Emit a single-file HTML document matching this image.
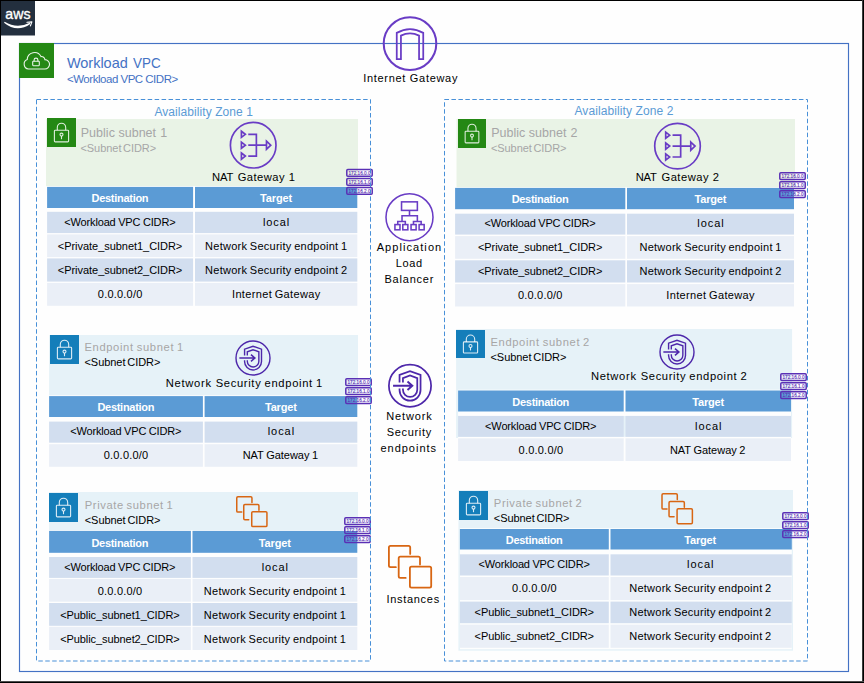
<!DOCTYPE html>
<html><head><meta charset="utf-8"><title>Workload VPC</title>
<style>
html,body{margin:0;padding:0}
body{width:864px;height:683px;position:relative;overflow:hidden;background:#fefefe;font-family:"Liberation Sans",sans-serif}
.b{position:absolute}
.t{position:absolute;white-space:pre;transform-origin:0 50%;font-family:"Liberation Sans",sans-serif}
svg{position:absolute;left:0;top:0;overflow:visible}
svg text{font-family:"Liberation Sans",sans-serif}
</style></head>
<body>
<svg width="864" height="683" viewBox="0 0 864 683">
<rect x="19.5" y="43.5" width="829" height="628" fill="none" stroke="#4472c4" stroke-width="1.15"/>
<rect x="1" y="1" width="34" height="34.5" fill="#232f3e"/>
<rect x="19" y="43" width="35" height="35" fill="#248814"/>
<rect x="46" y="119" width="312" height="67.1" fill="#e9f3e6"/>
<rect x="47" y="118" width="29" height="29" fill="#248814"/>
<rect x="47.1" y="186.9" width="146" height="21.1" fill="#5b9bd5"/>
<rect x="195" y="186.9" width="162.3" height="21.1" fill="#5b9bd5"/>
<rect x="47.1" y="211.8" width="146" height="21.3" fill="#d2deef"/>
<rect x="195" y="211.8" width="162.3" height="21.3" fill="#d2deef"/>
<rect x="47.1" y="234.4" width="146" height="22.7" fill="#eaeff7"/>
<rect x="195" y="234.4" width="162.3" height="22.7" fill="#eaeff7"/>
<rect x="47.1" y="258.4" width="146" height="23.2" fill="#d2deef"/>
<rect x="195" y="258.4" width="162.3" height="23.2" fill="#d2deef"/>
<rect x="47.1" y="282.9" width="146" height="22.9" fill="#eaeff7"/>
<rect x="195" y="282.9" width="162.3" height="22.9" fill="#eaeff7"/>
<rect x="49.1" y="335" width="308.9" height="60.3" fill="#e6f2f8"/>
<rect x="50" y="335" width="29" height="29" fill="#147eba"/>
<rect x="49.1" y="396.1" width="153.8" height="20.9" fill="#5b9bd5"/>
<rect x="204.6" y="396.1" width="152.7" height="20.9" fill="#5b9bd5"/>
<rect x="49.1" y="421.6" width="153.8" height="21.1" fill="#d2deef"/>
<rect x="204.6" y="421.6" width="152.7" height="21.1" fill="#d2deef"/>
<rect x="49.1" y="444.2" width="153.8" height="22.6" fill="#eaeff7"/>
<rect x="204.6" y="444.2" width="152.7" height="22.6" fill="#eaeff7"/>
<rect x="49.1" y="492" width="308.9" height="38.2" fill="#e6f2f8"/>
<rect x="49" y="493" width="29" height="29" fill="#147eba"/>
<rect x="49.1" y="530.9" width="141.8" height="21.9" fill="#5b9bd5"/>
<rect x="192.5" y="530.9" width="164.8" height="21.9" fill="#5b9bd5"/>
<rect x="49.1" y="557" width="141.8" height="20.9" fill="#d2deef"/>
<rect x="192.5" y="557" width="164.8" height="20.9" fill="#d2deef"/>
<rect x="49.1" y="578.9" width="141.8" height="22.8" fill="#eaeff7"/>
<rect x="192.5" y="578.9" width="164.8" height="22.8" fill="#eaeff7"/>
<rect x="49.1" y="603" width="141.8" height="22.8" fill="#d2deef"/>
<rect x="192.5" y="603" width="164.8" height="22.8" fill="#d2deef"/>
<rect x="49.1" y="626.8" width="141.8" height="23.2" fill="#eaeff7"/>
<rect x="192.5" y="626.8" width="164.8" height="23.2" fill="#eaeff7"/>
<rect x="456.5" y="119" width="338.5" height="68.2" fill="#e9f3e6"/>
<rect x="458" y="119" width="28" height="29" fill="#248814"/>
<rect x="455.1" y="187.9" width="170.2" height="21.3" fill="#5b9bd5"/>
<rect x="627" y="187.9" width="167" height="21.3" fill="#5b9bd5"/>
<rect x="455.1" y="213.7" width="170.2" height="20.9" fill="#d2deef"/>
<rect x="627" y="213.7" width="167" height="20.9" fill="#d2deef"/>
<rect x="455.1" y="236.1" width="170.2" height="22.7" fill="#eaeff7"/>
<rect x="627" y="236.1" width="167" height="22.7" fill="#eaeff7"/>
<rect x="455.1" y="260.3" width="170.2" height="22.2" fill="#d2deef"/>
<rect x="627" y="260.3" width="167" height="22.2" fill="#d2deef"/>
<rect x="455.1" y="284.1" width="170.2" height="22.4" fill="#eaeff7"/>
<rect x="627" y="284.1" width="167" height="22.4" fill="#eaeff7"/>
<rect x="456.1" y="329" width="336" height="109" fill="#e6f2f8"/>
<rect x="458.1" y="389.7" width="332.9" height="26.3" fill="#fefefe"/>
<rect x="458.1" y="436.8" width="332.9" height="1.6" fill="#fefefe"/>
<rect x="456" y="330" width="29" height="28" fill="#147eba"/>
<rect x="458.1" y="390.5" width="165.6" height="21" fill="#5b9bd5"/>
<rect x="625.5" y="390.5" width="165.5" height="21" fill="#5b9bd5"/>
<rect x="458.1" y="415.9" width="165.6" height="20.9" fill="#d2deef"/>
<rect x="625.5" y="415.9" width="165.5" height="20.9" fill="#d2deef"/>
<rect x="458.1" y="438.3" width="165.6" height="22.7" fill="#eaeff7"/>
<rect x="625.5" y="438.3" width="165.5" height="22.7" fill="#eaeff7"/>
<rect x="458.4" y="490" width="334.6" height="160.7" fill="#e6f2f8"/>
<rect x="459.9" y="528.2" width="331.9" height="121" fill="#fdfefe"/>
<rect x="459" y="491" width="29" height="29" fill="#147eba"/>
<rect x="459.9" y="529" width="148.9" height="20.5" fill="#5b9bd5"/>
<rect x="610.5" y="529" width="181.3" height="20.5" fill="#5b9bd5"/>
<rect x="459.9" y="554.3" width="148.9" height="21.2" fill="#d2deef"/>
<rect x="610.5" y="554.3" width="181.3" height="21.2" fill="#d2deef"/>
<rect x="459.9" y="577" width="148.9" height="23.1" fill="#eaeff7"/>
<rect x="610.5" y="577" width="181.3" height="23.1" fill="#eaeff7"/>
<rect x="459.9" y="601.6" width="148.9" height="21.6" fill="#d2deef"/>
<rect x="610.5" y="601.6" width="181.3" height="21.6" fill="#d2deef"/>
<rect x="459.9" y="624.7" width="148.9" height="23.1" fill="#eaeff7"/>
<rect x="610.5" y="624.7" width="181.3" height="23.1" fill="#eaeff7"/>
</svg>
<div class="t " style="left:66.95px;top:54.00px;font-size:14.5px;line-height:18px;letter-spacing:-0.026px;word-spacing:0.000px;color:#4472c4;">Workload</div>
<div class="t " style="left:133.05px;top:54.00px;font-size:14.5px;line-height:18px;letter-spacing:0.000px;word-spacing:0.000px;color:#4472c4;transform:scaleX(0.9257);">VPC</div>
<div class="t " style="left:66.95px;top:72.00px;font-size:11.5px;line-height:14px;letter-spacing:-0.466px;word-spacing:-0.128px;color:#4472c4;">&lt;Workload VPC CIDR&gt;</div>
<div class="t " style="left:154.45px;top:104.00px;font-size:12px;line-height:16px;letter-spacing:0.074px;word-spacing:0.000px;color:#5b9bd5;">Availability Zone 1</div>
<div class="t " style="left:574.45px;top:103.00px;font-size:12px;line-height:16px;letter-spacing:0.102px;word-spacing:0.000px;color:#5b9bd5;">Availability Zone 2</div>
<div class="t " style="left:80.75px;top:125.00px;font-size:12.5px;line-height:16px;letter-spacing:0.021px;word-spacing:0.000px;color:#a6a6a6;">Public subnet</div>
<div class="t " style="left:160.25px;top:125.00px;font-size:12.5px;line-height:16px;letter-spacing:0.748px;word-spacing:0.000px;color:#a6a6a6;">1</div>
<div class="t " style="left:80.45px;top:141.00px;font-size:11px;line-height:14px;letter-spacing:-0.041px;word-spacing:-1.415px;color:#a6a6a6;">&lt;Subnet CIDR&gt;</div>
<div class="t " style="left:211.95px;top:170.00px;font-size:11.2px;line-height:14px;letter-spacing:-0.135px;word-spacing:0.000px;color:#000;">NAT</div>
<div class="t " style="left:237.65px;top:170.00px;font-size:11.2px;line-height:14px;letter-spacing:0.470px;word-spacing:0.000px;color:#000;">Gateway 1</div>
<div class="t " style="left:91.55px;top:191.00px;font-size:11px;line-height:14px;letter-spacing:-0.290px;word-spacing:0.000px;color:#fff;font-weight:bold;">Destination</div>
<div class="t " style="left:260.10px;top:191.00px;font-size:11px;line-height:14px;letter-spacing:-0.160px;word-spacing:0.000px;color:#fff;font-weight:bold;">Target</div>
<div class="t " style="left:64.30px;top:215.00px;font-size:11px;line-height:14px;letter-spacing:-0.157px;word-spacing:-0.299px;color:#000;">&lt;Workload VPC CIDR&gt;</div>
<div class="t " style="left:262.90px;top:215.00px;font-size:11px;line-height:14px;letter-spacing:0.944px;word-spacing:0.000px;color:#000;">local</div>
<div class="t " style="left:57.80px;top:239.00px;font-size:11px;line-height:14px;letter-spacing:-0.041px;word-spacing:0.000px;color:#000;">&lt;Private_subnet1_CIDR&gt;</div>
<div class="t " style="left:205.10px;top:239.00px;font-size:11px;line-height:14px;letter-spacing:0.252px;word-spacing:-0.708px;color:#000;">Network Security endpoint 1</div>
<div class="t " style="left:57.80px;top:263.00px;font-size:11px;line-height:14px;letter-spacing:-0.041px;word-spacing:0.000px;color:#000;">&lt;Private_subnet2_CIDR&gt;</div>
<div class="t " style="left:205.10px;top:263.00px;font-size:11px;line-height:14px;letter-spacing:0.252px;word-spacing:-0.708px;color:#000;">Network Security endpoint 2</div>
<div class="t " style="left:97.80px;top:287.00px;font-size:11px;line-height:14px;letter-spacing:0.211px;word-spacing:0.000px;color:#000;">0.0.0.0/0</div>
<div class="t " style="left:232.00px;top:287.00px;font-size:11px;line-height:14px;letter-spacing:0.349px;word-spacing:-0.805px;color:#000;">Internet Gateway</div>
<div class="t " style="left:84.45px;top:340.00px;font-size:11.2px;line-height:14px;letter-spacing:0.638px;word-spacing:-0.749px;color:#a6a6a6;">Endpoint subnet 1</div>
<div class="t " style="left:84.45px;top:355.00px;font-size:11px;line-height:14px;letter-spacing:-0.036px;word-spacing:-1.220px;color:#000;">&lt;Subnet CIDR&gt;</div>
<div class="t " style="left:165.70px;top:376.00px;font-size:11.2px;line-height:14px;letter-spacing:0.737px;word-spacing:0.000px;color:#000;">Network</div>
<div class="t " style="left:215.70px;top:376.00px;font-size:11.2px;line-height:14px;letter-spacing:0.662px;word-spacing:-0.573px;color:#000;">Security endpoint 1</div>
<div class="t " style="left:97.45px;top:400.00px;font-size:11px;line-height:14px;letter-spacing:-0.290px;word-spacing:0.000px;color:#fff;font-weight:bold;">Destination</div>
<div class="t " style="left:264.90px;top:400.00px;font-size:11px;line-height:14px;letter-spacing:-0.160px;word-spacing:0.000px;color:#fff;font-weight:bold;">Target</div>
<div class="t " style="left:70.20px;top:424.00px;font-size:11px;line-height:14px;letter-spacing:-0.157px;word-spacing:-0.299px;color:#000;">&lt;Workload VPC CIDR&gt;</div>
<div class="t " style="left:267.70px;top:424.00px;font-size:11px;line-height:14px;letter-spacing:0.944px;word-spacing:0.000px;color:#000;">local</div>
<div class="t " style="left:103.70px;top:448.00px;font-size:11px;line-height:14px;letter-spacing:0.211px;word-spacing:0.000px;color:#000;">0.0.0.0/0</div>
<div class="t " style="left:242.65px;top:448.00px;font-size:11px;line-height:14px;letter-spacing:-0.023px;word-spacing:-0.433px;color:#000;">NAT Gateway 1</div>
<div class="t " style="left:84.75px;top:498.00px;font-size:11.2px;line-height:14px;letter-spacing:0.622px;word-spacing:-1.133px;color:#a6a6a6;">Private subnet 1</div>
<div class="t " style="left:84.75px;top:513.00px;font-size:11px;line-height:14px;letter-spacing:-0.064px;word-spacing:-1.192px;color:#000;">&lt;Subnet CIDR&gt;</div>
<div class="t " style="left:91.45px;top:536.00px;font-size:11px;line-height:14px;letter-spacing:-0.290px;word-spacing:0.000px;color:#fff;font-weight:bold;">Destination</div>
<div class="t " style="left:258.85px;top:536.00px;font-size:11px;line-height:14px;letter-spacing:-0.160px;word-spacing:0.000px;color:#fff;font-weight:bold;">Target</div>
<div class="t " style="left:64.20px;top:560.00px;font-size:11px;line-height:14px;letter-spacing:-0.157px;word-spacing:-0.299px;color:#000;">&lt;Workload VPC CIDR&gt;</div>
<div class="t " style="left:261.65px;top:560.00px;font-size:11px;line-height:14px;letter-spacing:0.944px;word-spacing:0.000px;color:#000;">local</div>
<div class="t " style="left:97.70px;top:584.00px;font-size:11px;line-height:14px;letter-spacing:0.211px;word-spacing:0.000px;color:#000;">0.0.0.0/0</div>
<div class="t " style="left:203.85px;top:584.00px;font-size:11px;line-height:14px;letter-spacing:0.252px;word-spacing:-0.708px;color:#000;">Network Security endpoint 1</div>
<div class="t " style="left:60.20px;top:608.00px;font-size:11px;line-height:14px;letter-spacing:-0.079px;word-spacing:0.000px;color:#000;">&lt;Public_subnet1_CIDR&gt;</div>
<div class="t " style="left:203.85px;top:608.00px;font-size:11px;line-height:14px;letter-spacing:0.252px;word-spacing:-0.708px;color:#000;">Network Security endpoint 1</div>
<div class="t " style="left:60.20px;top:632.00px;font-size:11px;line-height:14px;letter-spacing:-0.079px;word-spacing:0.000px;color:#000;">&lt;Public_subnet2_CIDR&gt;</div>
<div class="t " style="left:203.85px;top:632.00px;font-size:11px;line-height:14px;letter-spacing:0.252px;word-spacing:-0.708px;color:#000;">Network Security endpoint 1</div>
<div class="t " style="left:491.25px;top:125.00px;font-size:12.5px;line-height:16px;letter-spacing:0.012px;word-spacing:0.000px;color:#a6a6a6;">Public subnet</div>
<div class="t " style="left:570.45px;top:125.00px;font-size:12.5px;line-height:16px;letter-spacing:0.798px;word-spacing:0.000px;color:#a6a6a6;">2</div>
<div class="t " style="left:490.95px;top:141.00px;font-size:11px;line-height:14px;letter-spacing:-0.064px;word-spacing:-1.392px;color:#a6a6a6;">&lt;Subnet CIDR&gt;</div>
<div class="t " style="left:635.70px;top:170.00px;font-size:11.2px;line-height:14px;letter-spacing:-0.160px;word-spacing:0.000px;color:#000;">NAT</div>
<div class="t " style="left:661.45px;top:170.00px;font-size:11.2px;line-height:14px;letter-spacing:0.495px;word-spacing:0.000px;color:#000;">Gateway 2</div>
<div class="t " style="left:511.65px;top:192.00px;font-size:11px;line-height:14px;letter-spacing:-0.289px;word-spacing:0.000px;color:#fff;font-weight:bold;">Destination</div>
<div class="t " style="left:694.45px;top:192.00px;font-size:11px;line-height:14px;letter-spacing:-0.160px;word-spacing:0.000px;color:#fff;font-weight:bold;">Target</div>
<div class="t " style="left:484.40px;top:216.00px;font-size:11px;line-height:14px;letter-spacing:-0.157px;word-spacing:-0.299px;color:#000;">&lt;Workload VPC CIDR&gt;</div>
<div class="t " style="left:697.25px;top:216.00px;font-size:11px;line-height:14px;letter-spacing:0.944px;word-spacing:0.000px;color:#000;">local</div>
<div class="t " style="left:477.90px;top:240.00px;font-size:11px;line-height:14px;letter-spacing:-0.041px;word-spacing:0.000px;color:#000;">&lt;Private_subnet1_CIDR&gt;</div>
<div class="t " style="left:639.45px;top:240.00px;font-size:11px;line-height:14px;letter-spacing:0.252px;word-spacing:-0.708px;color:#000;">Network Security endpoint 1</div>
<div class="t " style="left:477.90px;top:264.00px;font-size:11px;line-height:14px;letter-spacing:-0.041px;word-spacing:0.000px;color:#000;">&lt;Private_subnet2_CIDR&gt;</div>
<div class="t " style="left:639.45px;top:264.00px;font-size:11px;line-height:14px;letter-spacing:0.252px;word-spacing:-0.708px;color:#000;">Network Security endpoint 2</div>
<div class="t " style="left:517.90px;top:288.00px;font-size:11px;line-height:14px;letter-spacing:0.211px;word-spacing:0.000px;color:#000;">0.0.0.0/0</div>
<div class="t " style="left:666.35px;top:288.00px;font-size:11px;line-height:14px;letter-spacing:0.349px;word-spacing:-0.805px;color:#000;">Internet Gateway</div>
<div class="t " style="left:490.45px;top:335.00px;font-size:11.2px;line-height:14px;letter-spacing:0.638px;word-spacing:-0.749px;color:#a6a6a6;">Endpoint subnet 2</div>
<div class="t " style="left:490.45px;top:350.00px;font-size:11px;line-height:14px;letter-spacing:-0.036px;word-spacing:-1.220px;color:#000;">&lt;Subnet CIDR&gt;</div>
<div class="t " style="left:590.95px;top:369.00px;font-size:11.2px;line-height:14px;letter-spacing:0.671px;word-spacing:0.000px;color:#000;">Network</div>
<div class="t " style="left:640.70px;top:369.00px;font-size:11.2px;line-height:14px;letter-spacing:0.630px;word-spacing:-0.542px;color:#000;">Security endpoint 2</div>
<div class="t " style="left:512.35px;top:395.00px;font-size:11px;line-height:14px;letter-spacing:-0.290px;word-spacing:0.000px;color:#fff;font-weight:bold;">Destination</div>
<div class="t " style="left:692.20px;top:395.00px;font-size:11px;line-height:14px;letter-spacing:-0.160px;word-spacing:0.000px;color:#fff;font-weight:bold;">Target</div>
<div class="t " style="left:485.10px;top:419.00px;font-size:11px;line-height:14px;letter-spacing:-0.157px;word-spacing:-0.299px;color:#000;">&lt;Workload VPC CIDR&gt;</div>
<div class="t " style="left:695.00px;top:419.00px;font-size:11px;line-height:14px;letter-spacing:0.944px;word-spacing:0.000px;color:#000;">local</div>
<div class="t " style="left:518.60px;top:443.00px;font-size:11px;line-height:14px;letter-spacing:0.211px;word-spacing:0.000px;color:#000;">0.0.0.0/0</div>
<div class="t " style="left:669.95px;top:443.00px;font-size:11px;line-height:14px;letter-spacing:-0.023px;word-spacing:-0.433px;color:#000;">NAT Gateway 2</div>
<div class="t " style="left:493.85px;top:496.00px;font-size:11.2px;line-height:14px;letter-spacing:0.614px;word-spacing:-1.126px;color:#a6a6a6;">Private subnet 2</div>
<div class="t " style="left:493.85px;top:511.00px;font-size:11px;line-height:14px;letter-spacing:-0.073px;word-spacing:-1.183px;color:#000;">&lt;Subnet CIDR&gt;</div>
<div class="t " style="left:505.80px;top:533.00px;font-size:11px;line-height:14px;letter-spacing:-0.289px;word-spacing:0.000px;color:#fff;font-weight:bold;">Destination</div>
<div class="t " style="left:684.20px;top:533.00px;font-size:11px;line-height:14px;letter-spacing:-0.160px;word-spacing:0.000px;color:#fff;font-weight:bold;">Target</div>
<div class="t " style="left:478.55px;top:557.00px;font-size:11px;line-height:14px;letter-spacing:-0.157px;word-spacing:-0.299px;color:#000;">&lt;Workload VPC CIDR&gt;</div>
<div class="t " style="left:687.00px;top:557.00px;font-size:11px;line-height:14px;letter-spacing:0.944px;word-spacing:0.000px;color:#000;">local</div>
<div class="t " style="left:512.05px;top:581.00px;font-size:11px;line-height:14px;letter-spacing:0.211px;word-spacing:0.000px;color:#000;">0.0.0.0/0</div>
<div class="t " style="left:629.20px;top:581.00px;font-size:11px;line-height:14px;letter-spacing:0.252px;word-spacing:-0.708px;color:#000;">Network Security endpoint 2</div>
<div class="t " style="left:474.55px;top:605.00px;font-size:11px;line-height:14px;letter-spacing:-0.079px;word-spacing:0.000px;color:#000;">&lt;Public_subnet1_CIDR&gt;</div>
<div class="t " style="left:629.20px;top:605.00px;font-size:11px;line-height:14px;letter-spacing:0.252px;word-spacing:-0.708px;color:#000;">Network Security endpoint 2</div>
<div class="t " style="left:474.55px;top:629.00px;font-size:11px;line-height:14px;letter-spacing:-0.079px;word-spacing:0.000px;color:#000;">&lt;Public_subnet2_CIDR&gt;</div>
<div class="t " style="left:629.20px;top:629.00px;font-size:11px;line-height:14px;letter-spacing:0.252px;word-spacing:-0.708px;color:#000;">Network Security endpoint 2</div>
<div class="t " style="left:363.20px;top:71.00px;font-size:11px;line-height:14px;letter-spacing:0.699px;word-spacing:0.000px;color:#000;">Internet Gateway</div>
<div class="t " style="left:376.70px;top:240.00px;font-size:11px;line-height:14px;letter-spacing:1.069px;word-spacing:0.000px;color:#000;">Application</div>
<div class="t " style="left:395.70px;top:256.00px;font-size:11px;line-height:14px;letter-spacing:0.676px;word-spacing:0.000px;color:#000;">Load</div>
<div class="t " style="left:384.45px;top:272.00px;font-size:11px;line-height:14px;letter-spacing:0.798px;word-spacing:0.000px;color:#000;">Balancer</div>
<div class="t " style="left:386.20px;top:409.00px;font-size:11px;line-height:14px;letter-spacing:0.859px;word-spacing:0.000px;color:#000;">Network</div>
<div class="t " style="left:386.70px;top:425.00px;font-size:11px;line-height:14px;letter-spacing:0.680px;word-spacing:0.000px;color:#000;">Security</div>
<div class="t " style="left:380.45px;top:441.00px;font-size:11px;line-height:14px;letter-spacing:0.987px;word-spacing:0.000px;color:#000;">endpoints</div>
<div class="t " style="left:386.45px;top:592.00px;font-size:11px;line-height:14px;letter-spacing:0.702px;word-spacing:0.000px;color:#000;">Instances</div>
<div class="b" style="left:0;top:0;width:864px;height:1px;background:#000"></div>
<div class="b" style="left:0;top:0;width:1px;height:683px;background:#000"></div>
<div class="b" style="left:862px;top:0;width:2px;height:683px;background:linear-gradient(90deg,#777,#000 50%)"></div>
<div class="b" style="left:0;top:681px;width:864px;height:2px;background:linear-gradient(180deg,#999,#000 50%)"></div>
<svg width="864" height="683" viewBox="0 0 864 683">
<g><text x="5.3" y="19.3" font-size="15" fill="#fff" stroke="#fff" stroke-width=".35" textLength="25.2" lengthAdjust="spacingAndGlyphs" style="font-family:'Liberation Sans',sans-serif">aws</text><path d="M4.0 22.7 Q17 33.2 30.3 23.9 L29.8 22.8 Q17 29.4 4.7 21.8 Z" fill="#fff"/><path d="M27 22.3 L31.9 21.9 L30.4 25.9" fill="none" stroke="#fff" stroke-width="1.15" stroke-linejoin="round" stroke-linecap="round"/></g>
<g fill="none" stroke="#fff" stroke-opacity=".9" stroke-width="1.1"><path d="M28.5 69 A4.9 4.9 0 0 1 27.2 59.6 A7.3 7.3 0 0 1 41 56.6 A3.4 3.4 0 0 1 44.9 59.6 A4.7 4.7 0 0 1 44.8 69 Z"/><rect x="32.7" y="61.3" width="6.6" height="4.4" rx=".6"/><path d="M34.1 61.3 V60 a1.9 1.9 0 0 1 3.8 0 V61.3"/></g>
<g transform="translate(47,118) scale(1.0,1.0)" fill="none" stroke="#fff" stroke-opacity=".85" stroke-width="1.1"><rect x="7.4" y="12.3" width="14.2" height="11.6" rx="0.8"/><path d="M10.3 12.3V9.6a4.2 4.4 0 0 1 8.4 0V12.3"/><circle cx="14.5" cy="16.6" r="1.5"/><path d="M14.5 18.1V21.2"/></g>
<g transform="translate(253.2,145.2) scale(0.991304347826087)" fill="none" stroke="#693cc5" stroke-width="1.7" stroke-linejoin="miter"><circle r="23"/><path d="M-11.9 -14.1 L-7.9 -11 L-11.9 -7.9 Z"/><path d="M-11.9 -3.1 L-7.9 0 L-11.9 3.1 Z"/><path d="M-11.9 7.9 L-7.9 11 L-11.9 14.1 Z"/><path d="M-5 -11 H3.2 V11 H-5 M-5 0 H13"/><path d="M13.4 -4.1 L17.7 0 L13.4 4.1 Z"/></g>
<g transform="translate(346,168.9)"><rect x="0.8" y="0.7" width="25.4" height="6.7" rx="1" fill="none" stroke="#5a30b5" stroke-width="1.5"/><text x="13.5" y="6.3" font-size="6" text-anchor="middle" fill="#5a30b5" stroke="#5a30b5" stroke-width=".15" textLength="22" lengthAdjust="spacingAndGlyphs">172.16.0.0</text><rect x="0.8" y="9.7" width="25.4" height="6.7" rx="1" fill="none" stroke="#5a30b5" stroke-width="1.5"/><text x="13.5" y="15.3" font-size="6" text-anchor="middle" fill="#5a30b5" stroke="#5a30b5" stroke-width=".15" textLength="22" lengthAdjust="spacingAndGlyphs">172.16.1.0</text><rect x="0.8" y="18.7" width="25.4" height="6.7" rx="1" fill="none" stroke="#5a30b5" stroke-width="1.5"/><text x="13.5" y="24.3" font-size="6" text-anchor="middle" fill="#5a30b5" stroke="#5a30b5" stroke-width=".15" textLength="22" lengthAdjust="spacingAndGlyphs">172.16.2.0</text></g>
<g transform="translate(50,335) scale(1.0,1.0)" fill="none" stroke="#fff" stroke-opacity=".85" stroke-width="1.1"><rect x="7.4" y="12.3" width="14.2" height="11.6" rx="0.8"/><path d="M10.3 12.3V9.6a4.2 4.4 0 0 1 8.4 0V12.3"/><circle cx="14.5" cy="16.6" r="1.5"/><path d="M14.5 18.1V21.2"/></g>
<g transform="translate(253,358) scale(0.7798165137614679)" fill="none" stroke="#4d27aa" stroke-width="1.8"><circle r="21.8"/><path d="M-10.8 -3.3 V-11.3 L0 -15.1 L10.9 -11.3 V4.4 A10.85 10.9 0 0 1 -10.8 4.4 V2.8"/><path d="M-7.3 -3.3 V-7.9 L0 -10.6 L7.5 -7.9 V4.1 A7.4 7.4 0 0 1 -7.3 4.1 V2.8"/><path d="M-17.5 0 H2.4 M-2.6 -4.4 L2.4 0 L-2.6 4.4" stroke-width="2"/></g>
<g transform="translate(345,378)"><rect x="0.8" y="0.7" width="25.4" height="6.7" rx="1" fill="none" stroke="#5a30b5" stroke-width="1.5"/><text x="13.5" y="6.3" font-size="6" text-anchor="middle" fill="#5a30b5" stroke="#5a30b5" stroke-width=".15" textLength="22" lengthAdjust="spacingAndGlyphs">172.16.0.0</text><rect x="0.8" y="9.7" width="25.4" height="6.7" rx="1" fill="none" stroke="#5a30b5" stroke-width="1.5"/><text x="13.5" y="15.3" font-size="6" text-anchor="middle" fill="#5a30b5" stroke="#5a30b5" stroke-width=".15" textLength="22" lengthAdjust="spacingAndGlyphs">172.16.1.0</text><rect x="0.8" y="18.7" width="25.4" height="6.7" rx="1" fill="none" stroke="#5a30b5" stroke-width="1.5"/><text x="13.5" y="24.3" font-size="6" text-anchor="middle" fill="#5a30b5" stroke="#5a30b5" stroke-width=".15" textLength="22" lengthAdjust="spacingAndGlyphs">172.16.2.0</text></g>
<g transform="translate(49,493) scale(1.0,1.0)" fill="none" stroke="#fff" stroke-opacity=".85" stroke-width="1.1"><rect x="7.4" y="12.3" width="14.2" height="11.6" rx="0.8"/><path d="M10.3 12.3V9.6a4.2 4.4 0 0 1 8.4 0V12.3"/><circle cx="14.5" cy="16.6" r="1.5"/><path d="M14.5 18.1V21.2"/></g>
<g fill="none" stroke="#d86613" stroke-width="1.5" stroke-linecap="round"><path d="M251.95 502.56 V497.99 Q251.95 496.85 250.81 496.85 H237.89 Q236.75 496.85 236.75 497.99 V510.91 Q236.75 512.05 237.89 512.05 H241.75 M258.94 510.19 V505.63 Q258.94 504.49 257.80 504.49 H244.89 Q243.74 504.49 243.74 505.63 V518.54 Q243.74 519.69 244.89 519.69 H248.74"/><rect x="251.74" y="511.69" width="15.20" height="14.91" rx="1.14"/></g>
<g transform="translate(344,517.1)"><rect x="0.8" y="0.7" width="25.4" height="6.7" rx="1" fill="none" stroke="#5a30b5" stroke-width="1.5"/><text x="13.5" y="6.3" font-size="6" text-anchor="middle" fill="#5a30b5" stroke="#5a30b5" stroke-width=".15" textLength="22" lengthAdjust="spacingAndGlyphs">172.16.0.0</text><rect x="0.8" y="9.7" width="25.4" height="6.7" rx="1" fill="none" stroke="#5a30b5" stroke-width="1.5"/><text x="13.5" y="15.3" font-size="6" text-anchor="middle" fill="#5a30b5" stroke="#5a30b5" stroke-width=".15" textLength="22" lengthAdjust="spacingAndGlyphs">172.16.1.0</text><rect x="0.8" y="18.7" width="25.4" height="6.7" rx="1" fill="none" stroke="#5a30b5" stroke-width="1.5"/><text x="13.5" y="24.3" font-size="6" text-anchor="middle" fill="#5a30b5" stroke="#5a30b5" stroke-width=".15" textLength="22" lengthAdjust="spacingAndGlyphs">172.16.2.0</text></g>
<g transform="translate(458,119) scale(0.9655172413793104,1.0)" fill="none" stroke="#fff" stroke-opacity=".85" stroke-width="1.1"><rect x="7.4" y="12.3" width="14.2" height="11.6" rx="0.8"/><path d="M10.3 12.3V9.6a4.2 4.4 0 0 1 8.4 0V12.3"/><circle cx="14.5" cy="16.6" r="1.5"/><path d="M14.5 18.1V21.2"/></g>
<g transform="translate(677.5,146.1) scale(0.991304347826087)" fill="none" stroke="#693cc5" stroke-width="1.7" stroke-linejoin="miter"><circle r="23"/><path d="M-11.9 -14.1 L-7.9 -11 L-11.9 -7.9 Z"/><path d="M-11.9 -3.1 L-7.9 0 L-11.9 3.1 Z"/><path d="M-11.9 7.9 L-7.9 11 L-11.9 14.1 Z"/><path d="M-5 -11 H3.2 V11 H-5 M-5 0 H13"/><path d="M13.4 -4.1 L17.7 0 L13.4 4.1 Z"/></g>
<g transform="translate(779,172.1)"><rect x="0.8" y="0.7" width="25.4" height="6.7" rx="1" fill="none" stroke="#5a30b5" stroke-width="1.5"/><text x="13.5" y="6.3" font-size="6" text-anchor="middle" fill="#5a30b5" stroke="#5a30b5" stroke-width=".15" textLength="22" lengthAdjust="spacingAndGlyphs">172.16.0.0</text><rect x="0.8" y="9.7" width="25.4" height="6.7" rx="1" fill="none" stroke="#5a30b5" stroke-width="1.5"/><text x="13.5" y="15.3" font-size="6" text-anchor="middle" fill="#5a30b5" stroke="#5a30b5" stroke-width=".15" textLength="22" lengthAdjust="spacingAndGlyphs">172.16.1.0</text><rect x="0.8" y="18.7" width="25.4" height="6.7" rx="1" fill="none" stroke="#5a30b5" stroke-width="1.5"/><text x="13.5" y="24.3" font-size="6" text-anchor="middle" fill="#5a30b5" stroke="#5a30b5" stroke-width=".15" textLength="22" lengthAdjust="spacingAndGlyphs">172.16.2.0</text></g>
<g transform="translate(456,330) scale(1.0,0.9655172413793104)" fill="none" stroke="#fff" stroke-opacity=".85" stroke-width="1.1"><rect x="7.4" y="12.3" width="14.2" height="11.6" rx="0.8"/><path d="M10.3 12.3V9.6a4.2 4.4 0 0 1 8.4 0V12.3"/><circle cx="14.5" cy="16.6" r="1.5"/><path d="M14.5 18.1V21.2"/></g>
<g transform="translate(677,352) scale(0.7798165137614679)" fill="none" stroke="#4d27aa" stroke-width="1.8"><circle r="21.8"/><path d="M-10.8 -3.3 V-11.3 L0 -15.1 L10.9 -11.3 V4.4 A10.85 10.9 0 0 1 -10.8 4.4 V2.8"/><path d="M-7.3 -3.3 V-7.9 L0 -10.6 L7.5 -7.9 V4.1 A7.4 7.4 0 0 1 -7.3 4.1 V2.8"/><path d="M-17.5 0 H2.4 M-2.6 -4.4 L2.4 0 L-2.6 4.4" stroke-width="2"/></g>
<g transform="translate(780,373)"><rect x="0.8" y="0.7" width="25.4" height="6.7" rx="1" fill="none" stroke="#5a30b5" stroke-width="1.5"/><text x="13.5" y="6.3" font-size="6" text-anchor="middle" fill="#5a30b5" stroke="#5a30b5" stroke-width=".15" textLength="22" lengthAdjust="spacingAndGlyphs">172.16.0.0</text><rect x="0.8" y="9.7" width="25.4" height="6.7" rx="1" fill="none" stroke="#5a30b5" stroke-width="1.5"/><text x="13.5" y="15.3" font-size="6" text-anchor="middle" fill="#5a30b5" stroke="#5a30b5" stroke-width=".15" textLength="22" lengthAdjust="spacingAndGlyphs">172.16.1.0</text><rect x="0.8" y="18.7" width="25.4" height="6.7" rx="1" fill="none" stroke="#5a30b5" stroke-width="1.5"/><text x="13.5" y="24.3" font-size="6" text-anchor="middle" fill="#5a30b5" stroke="#5a30b5" stroke-width=".15" textLength="22" lengthAdjust="spacingAndGlyphs">172.16.2.0</text></g>
<g transform="translate(459,491) scale(1.0,1.0)" fill="none" stroke="#fff" stroke-opacity=".85" stroke-width="1.1"><rect x="7.4" y="12.3" width="14.2" height="11.6" rx="0.8"/><path d="M10.3 12.3V9.6a4.2 4.4 0 0 1 8.4 0V12.3"/><circle cx="14.5" cy="16.6" r="1.5"/><path d="M14.5 18.1V21.2"/></g>
<g fill="none" stroke="#d86613" stroke-width="1.5" stroke-linecap="round"><path d="M677.30 499.55 V494.95 Q677.30 493.80 676.15 493.80 H663.15 Q662.00 493.80 662.00 494.95 V507.95 Q662.00 509.10 663.15 509.10 H667.03 M684.34 507.23 V502.64 Q684.34 501.49 683.19 501.49 H670.19 Q669.04 501.49 669.04 502.64 V515.64 Q669.04 516.79 670.19 516.79 H674.07"/><rect x="677.08" y="508.74" width="15.30" height="15.01" rx="1.15"/></g>
<g transform="translate(782,512.1)"><rect x="0.8" y="0.7" width="25.4" height="6.7" rx="1" fill="none" stroke="#5a30b5" stroke-width="1.5"/><text x="13.5" y="6.3" font-size="6" text-anchor="middle" fill="#5a30b5" stroke="#5a30b5" stroke-width=".15" textLength="22" lengthAdjust="spacingAndGlyphs">172.16.0.0</text><rect x="0.8" y="9.7" width="25.4" height="6.7" rx="1" fill="none" stroke="#5a30b5" stroke-width="1.5"/><text x="13.5" y="15.3" font-size="6" text-anchor="middle" fill="#5a30b5" stroke="#5a30b5" stroke-width=".15" textLength="22" lengthAdjust="spacingAndGlyphs">172.16.1.0</text><rect x="0.8" y="18.7" width="25.4" height="6.7" rx="1" fill="none" stroke="#5a30b5" stroke-width="1.5"/><text x="13.5" y="24.3" font-size="6" text-anchor="middle" fill="#5a30b5" stroke="#5a30b5" stroke-width=".15" textLength="22" lengthAdjust="spacingAndGlyphs">172.16.2.0</text></g>
<g transform="translate(410,43.6) scale(0.9740740740740741)" fill="none" stroke="#693cc5" stroke-width="2.1"><circle r="27"/><path d="M-13.6 16 V-11 Q0 -18.6 13.6 -11 V16 H9.3 V-8.2 Q0 -12.8 -9.3 -8.2 V16 Z" stroke-width="1.8"/></g>
<g transform="translate(409.5,217.2) scale(0.9710743801652892)" fill="none" stroke="#693cc5" stroke-width="1.6"><circle r="24.2"/><rect x="-8.2" y="-15.8" width="16.3" height="8.8"/><path d="M0 -7 V-1.5 M-7.7 4.4 V-1.5 H8.1 V4.4 M-12.1 7.6 V4.4 H-4.3 V7.6 M4.1 7.6 V4.4 H12 V7.6"/><rect x="-15" y="7.6" width="5.2" height="5.4"/><rect x="-6.9" y="7.6" width="5.2" height="5.4"/><rect x="1.6" y="7.6" width="5.2" height="5.4"/><rect x="9.9" y="7.6" width="5.2" height="5.4"/></g>
<g transform="translate(410,385.8) scale(0.9678899082568808)" fill="none" stroke="#4d27aa" stroke-width="1.8"><circle r="21.8"/><path d="M-10.8 -3.3 V-11.3 L0 -15.1 L10.9 -11.3 V4.4 A10.85 10.9 0 0 1 -10.8 4.4 V2.8"/><path d="M-7.3 -3.3 V-7.9 L0 -10.6 L7.5 -7.9 V4.1 A7.4 7.4 0 0 1 -7.3 4.1 V2.8"/><path d="M-17.5 0 H2.4 M-2.6 -4.4 L2.4 0 L-2.6 4.4" stroke-width="2"/></g>
<g fill="none" stroke="#d86613" stroke-width="1.8" stroke-linecap="round"><path d="M410.20 553.90 V547.50 Q410.20 545.90 408.60 545.90 H390.50 Q388.90 545.90 388.90 547.50 V565.60 Q388.90 567.20 390.50 567.20 H395.90 M420.00 564.60 V558.20 Q420.00 556.60 418.40 556.60 H400.30 Q398.70 556.60 398.70 558.20 V576.30 Q398.70 577.90 400.30 577.90 H405.70"/><rect x="409.90" y="566.70" width="21.30" height="20.90" rx="1.60"/></g>
<rect x="36.5" y="99.5" width="334.0" height="561.5" fill="none" stroke="#4890d8" stroke-width="1" stroke-dasharray="4.5 2.45"/>
<rect x="444.5" y="99.5" width="363.0" height="561.5" fill="none" stroke="#4890d8" stroke-width="1" stroke-dasharray="4.5 2.45"/>
</svg>
</body></html>
